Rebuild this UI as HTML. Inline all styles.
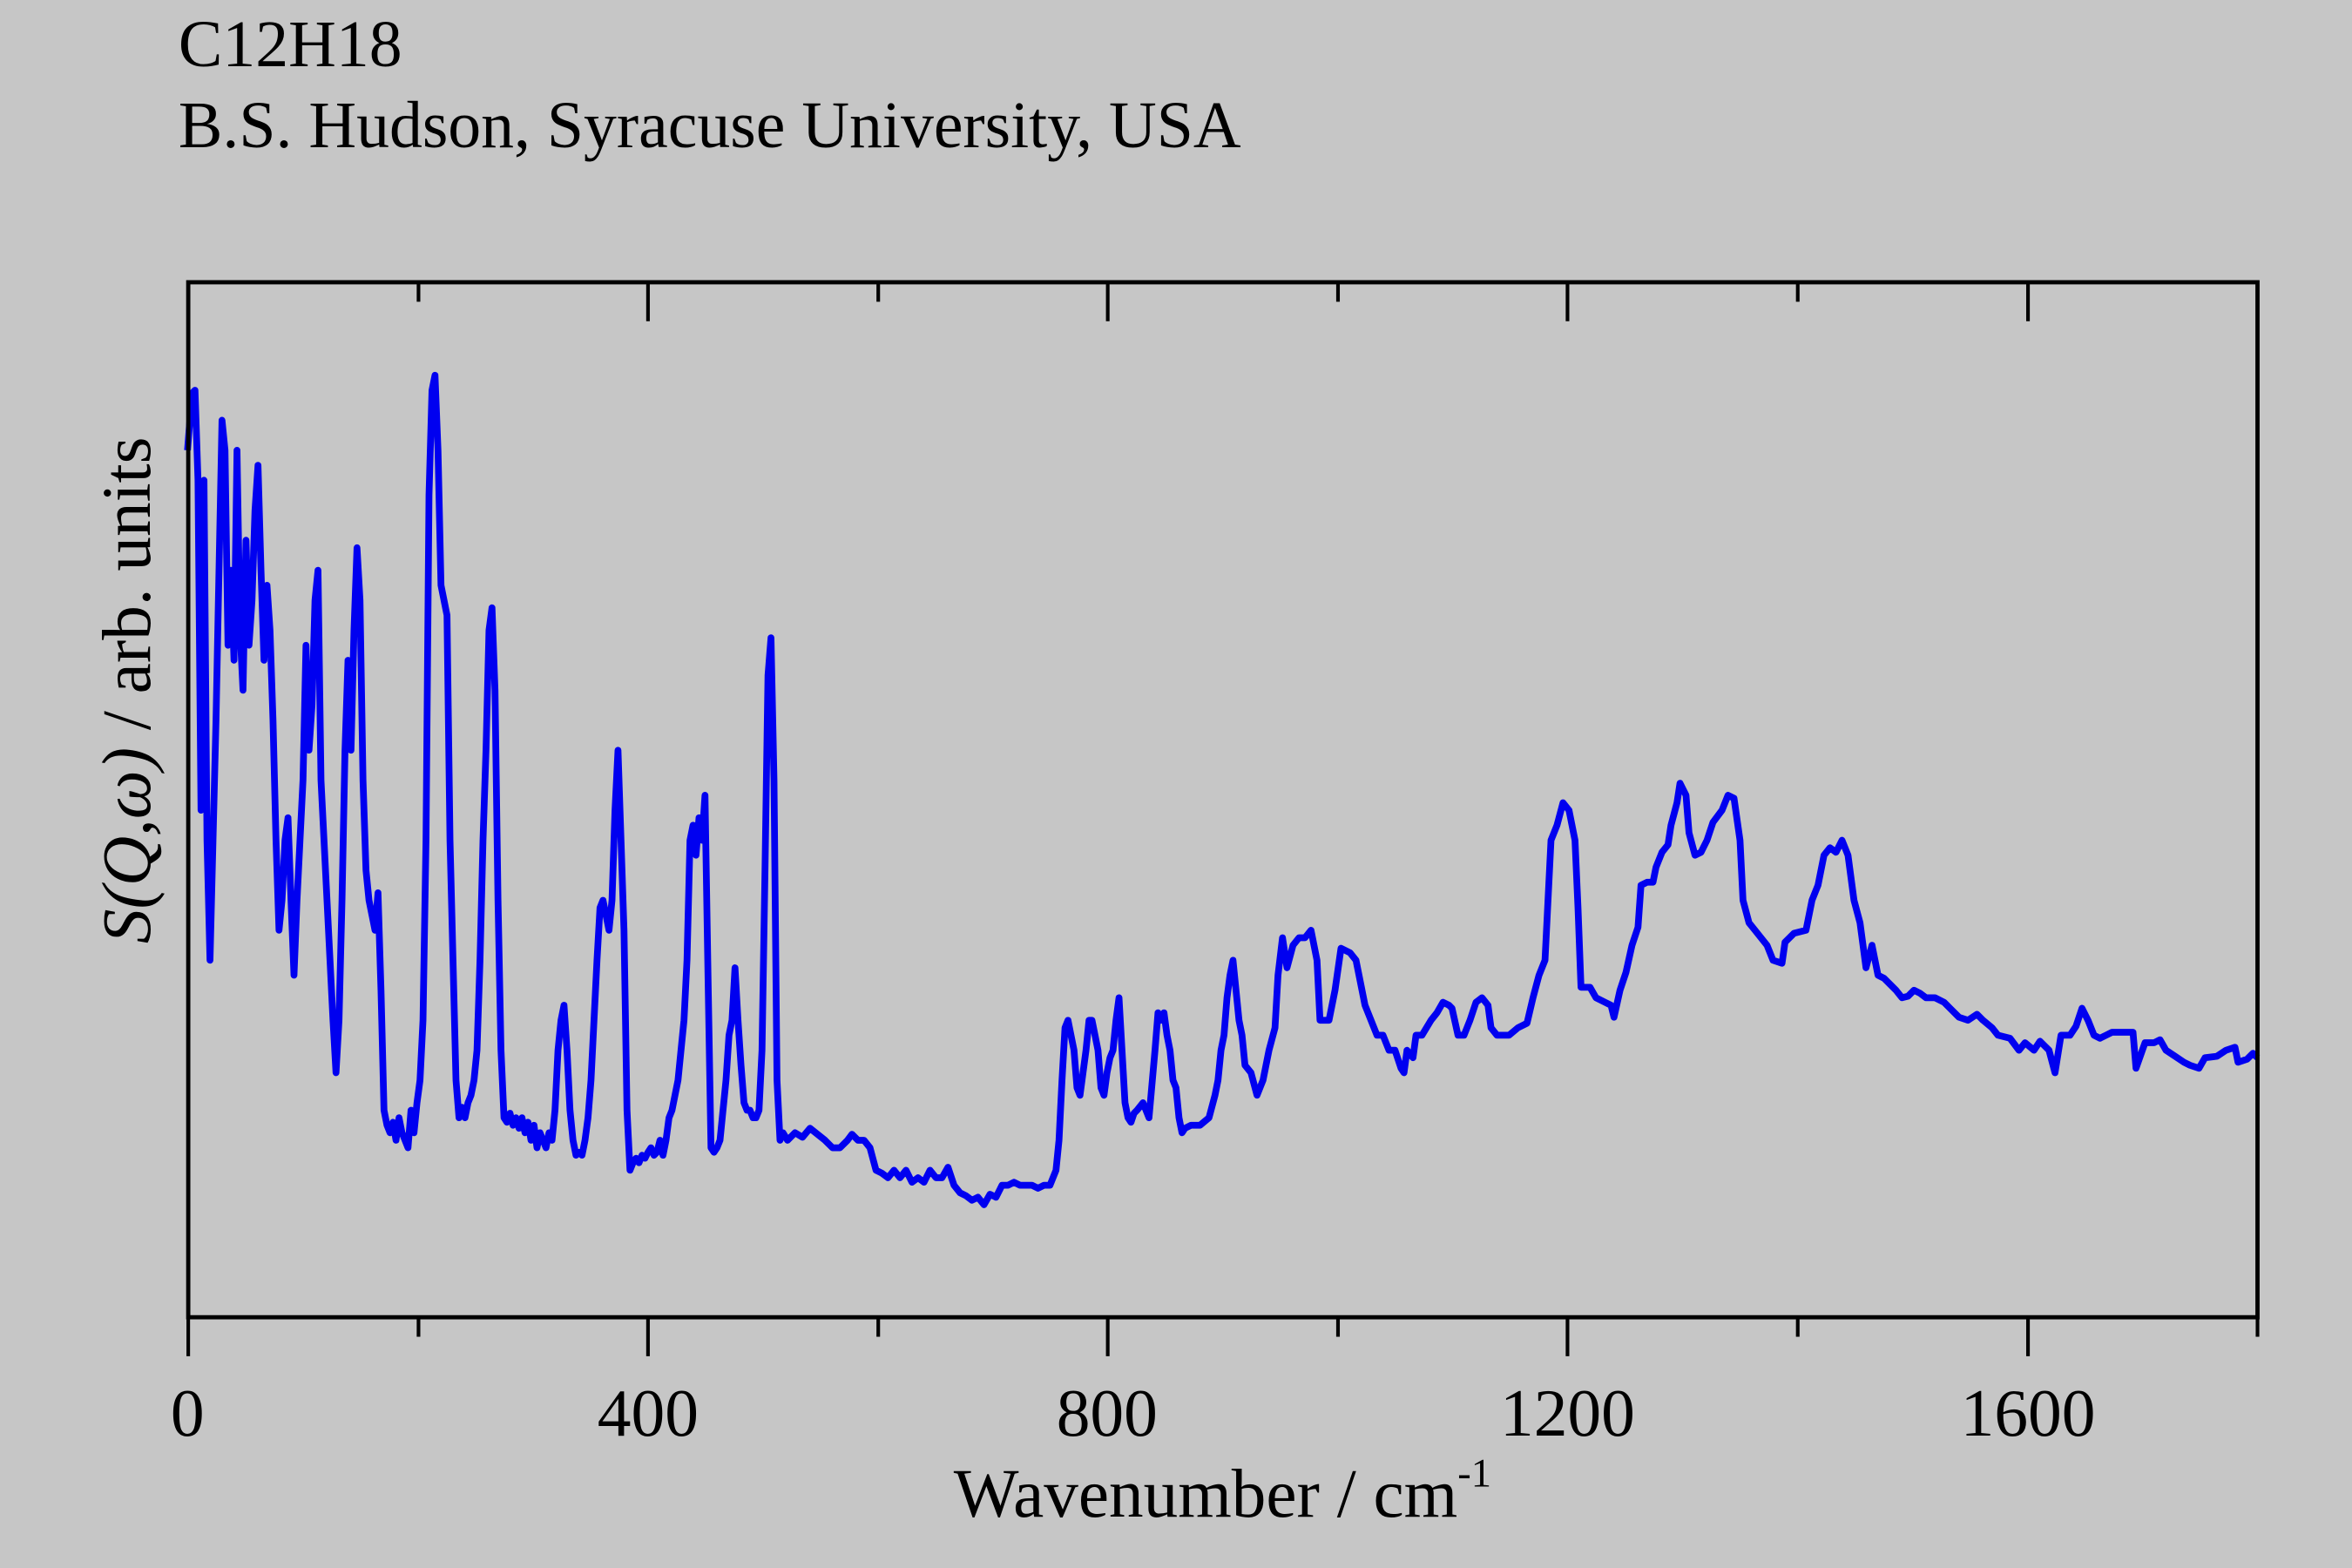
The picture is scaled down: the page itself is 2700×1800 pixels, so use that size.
<!DOCTYPE html>
<html><head><meta charset="utf-8"><style>html,body{margin:0;padding:0;background:#c6c6c6;}svg{display:block;}</style></head>
<body>
<svg width="2700" height="1800" viewBox="0 0 1568 1045" xmlns="http://www.w3.org/2000/svg">
<rect x="0" y="0" width="1568" height="1045" fill="#c6c6c6"/>
<g font-family="Liberation Serif, serif" fill="#000">
<text x="119" y="44" font-size="44">C12H18</text>
<text x="119" y="98" font-size="44">B.S. Hudson, Syracuse University, USA</text>
<g font-size="45" text-anchor="middle">
<text x="125" y="957">0</text>
<text x="432" y="957">400</text>
<text x="738" y="957">800</text>
<text x="1045" y="957">1200</text>
<text x="1352" y="957">1600</text>
</g>
<text x="815" y="1011" font-size="46" text-anchor="middle">Wavenumber / cm<tspan font-size="27" dy="-20">-1</tspan></text>
<text transform="translate(100,460) rotate(-90)" font-size="46" text-anchor="middle"><tspan font-style="italic">S(Q,ω)</tspan> / arb. units</text>
</g>
<polyline fill="none" stroke="#0000f0" stroke-width="4.5" stroke-linejoin="round" points="125,300 128,262 130,260 132,320 134,540 136,320 138,560 140,640 142,560 144,480 146,380 148,280 150,300 152,430 154,380 156,440 158,300 160,420 162,460 164,360 166,430 168,400 170,340 172,310 174,380 176,440 178,390 180,420 182,480 184,560 186,620 188,600 190,560 192,545 194,600 196,650 198,600 200,560 202,520 204,430 206,500 208,470 210,400 212,380 214,520 216,560 218,600 220,640 222,680 224,715 226,680 228,600 230,500 232,440 234,500 236,420 238,365 240,400 242,520 244,580 246,600 248,610 250,620 252,595 254,660 256,740 258,750 260,755 262,748 264,760 266,745 268,755 270,760 272,765 274,740 276,755 278,735 280,720 282,680 284,560 286,330 288,260 290,250 292,300 294,390 296,400 298,410 300,560 302,640 304,720 306,745 308,738 310,745 312,735 314,730 316,720 318,700 320,640 322,560 324,500 326,420 328,405 330,460 332,600 334,700 336,745 338,748 340,742 342,750 344,745 346,752 348,745 350,755 352,748 354,760 356,750 358,765 360,755 362,760 364,765 366,755 368,760 370,740 372,700 374,680 376,670 378,700 380,740 382,760 384,770 386,768 388,770 390,760 392,745 394,720 396,680 398,640 400,605 402,600 404,610 406,620 408,600 410,540 412,500 414,560 416,620 418,740 420,780 422,775 424,772 426,775 428,770 430,772 432,768 434,765 436,770 438,768 440,760 442,770 444,760 446,745 448,740 450,730 452,720 454,700 456,680 458,640 460,560 462,550 464,570 466,545 468,560 470,530 472,650 474,765 476,768 478,765 480,760 482,740 484,720 486,690 488,680 490,645 492,680 494,710 496,735 498,740 500,740 502,745 504,745 506,740 508,700 510,580 512,450 514,425 516,520 518,720 520,760 522,755 525,760 530,755 535,758 540,752 545,756 550,760 555,765 560,765 565,760 568,756 572,760 576,760 580,765 584,780 588,782 592,785 596,780 600,785 604,780 608,788 612,785 616,788 620,780 624,785 628,785 632,778 636,790 640,795 644,797 648,800 652,798 656,803 660,796 664,798 668,790 672,790 676,788 680,790 684,790 688,790 692,792 696,790 700,790 704,780 706,760 708,720 710,685 712,680 714,690 716,700 718,725 720,730 722,715 724,700 726,680 728,680 730,690 732,700 734,725 736,730 738,715 740,705 742,700 744,680 746,665 748,700 750,735 752,745 754,748 756,742 758,740 762,735 766,745 770,700 772,675 774,680 776,675 778,690 780,700 782,720 784,725 786,745 788,755 790,752 794,750 800,750 806,745 810,730 812,720 814,700 816,690 818,665 820,650 822,640 824,660 826,680 828,690 830,710 834,715 838,730 842,720 846,700 850,685 852,650 855,625 858,645 862,630 866,625 870,625 874,620 878,640 880,680 886,680 890,660 894,632 900,635 904,640 906,650 910,670 914,680 918,690 922,690 926,700 930,700 934,712 936,715 938,700 942,705 944,690 948,690 954,680 958,675 962,668 966,670 968,672 972,690 976,690 980,680 984,668 988,665 992,670 994,685 998,690 1006,690 1012,685 1018,682 1022,665 1026,650 1030,640 1032,600 1034,560 1038,550 1042,535 1046,540 1050,560 1052,605 1054,658 1060,658 1064,665 1070,668 1074,670 1076,678 1080,660 1084,648 1088,630 1092,618 1094,590 1098,588 1102,588 1104,578 1108,568 1112,563 1114,550 1118,535 1120,522 1124,530 1126,555 1130,570 1134,568 1138,560 1142,548 1148,540 1152,530 1156,532 1160,560 1162,600 1166,615 1170,620 1174,625 1178,630 1182,640 1188,642 1190,628 1196,622 1204,620 1208,600 1212,590 1216,570 1220,565 1224,568 1228,560 1232,570 1236,600 1240,615 1244,645 1248,630 1252,650 1256,652 1260,656 1264,660 1268,665 1272,664 1276,660 1280,662 1284,665 1290,665 1296,668 1300,672 1306,678 1312,680 1318,676 1322,680 1328,685 1332,690 1340,692 1346,700 1350,695 1356,700 1360,694 1366,700 1370,715 1374,690 1380,690 1384,684 1388,672 1392,680 1396,690 1400,692 1404,690 1408,688 1418,688 1422,688 1424,712 1430,695 1436,695 1440,693 1444,700 1450,704 1456,708 1460,710 1466,712 1470,705 1478,704 1484,700 1490,698 1492,708 1498,706 1502,702 1505,705"/>
<rect x="125.5" y="188" width="1379.5" height="690" fill="none" stroke="#000" stroke-width="2.8"/>
<g stroke="#000" stroke-width="2.4">
<line x1="125.5" y1="878" x2="125.5" y2="904"/>
<line x1="432" y1="878" x2="432" y2="904"/>
<line x1="738.5" y1="878" x2="738.5" y2="904"/>
<line x1="1045" y1="878" x2="1045" y2="904"/>
<line x1="1352" y1="878" x2="1352" y2="904"/>
<line x1="279" y1="878" x2="279" y2="891"/>
<line x1="585.5" y1="878" x2="585.5" y2="891"/>
<line x1="892" y1="878" x2="892" y2="891"/>
<line x1="1198.5" y1="878" x2="1198.5" y2="891"/>
<line x1="1505" y1="878" x2="1505" y2="891"/>
<line x1="432" y1="188" x2="432" y2="214"/>
<line x1="738.5" y1="188" x2="738.5" y2="214"/>
<line x1="1045" y1="188" x2="1045" y2="214"/>
<line x1="1352" y1="188" x2="1352" y2="214"/>
<line x1="279" y1="188" x2="279" y2="201"/>
<line x1="585.5" y1="188" x2="585.5" y2="201"/>
<line x1="892" y1="188" x2="892" y2="201"/>
<line x1="1198.5" y1="188" x2="1198.5" y2="201"/>
</g>
</svg>
</body></html>
